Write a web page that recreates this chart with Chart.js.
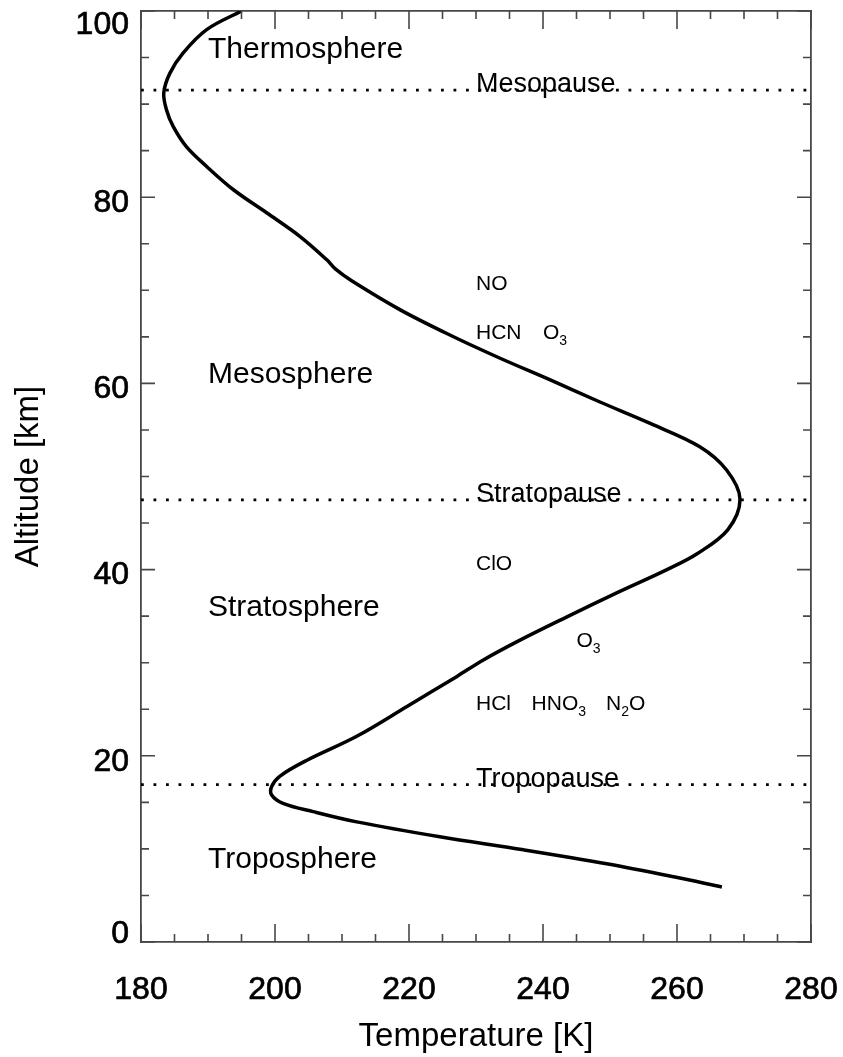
<!DOCTYPE html>
<html>
<head>
<meta charset="utf-8">
<script src="https://cdn.jsdelivr.net/npm/chart.js@4"></script>
<style>
  html, body { margin: 0; padding: 0; background: #fff; }
  canvas { display: block; }
</style>
</head>
<body>
<canvas id="profile" width="843" height="1057"></canvas>
<script>
// Mean temperature profile of the atmosphere, surface to 100 km
const temperatureK = [
  266.7, 259.5, 249.5, 237.1, 224.6, 212.2, 205.7, 201.2, 199.5, 199.5,
  200.7, 204.7, 212.2, 219.7, 227.1, 231.1, 236.5, 243.5, 251.0, 258.5,
  263.0, 267.6, 269.4, 267.4, 263.4, 256.0, 248.5, 241.0, 233.6, 226.1,
  218.7, 211.5, 209.0, 207.7, 203.7, 198.8, 193.8, 189.8, 186.8, 184.8,
  183.8, 183.4, 184.3, 186.3, 189.8, 195.0
];
const altitudeKm = [
  5.9, 7.0, 8.4, 9.9, 11.3, 12.9, 14.0, 14.9, 15.8, 16.7,
  17.8, 19.5, 22.1, 25.3, 28.5, 30.3, 32.4, 34.9, 37.5, 40.0,
  41.7, 44.3, 47.6, 50.7, 53.2, 55.7, 58.0, 60.4, 62.7, 65.2,
  67.9, 71.0, 72.3, 73.3, 75.8, 78.3, 80.8, 83.3, 85.4, 87.6,
  89.4, 91.2, 93.3, 95.5, 98.0, 100.0
];

// Axis ticks (labelled every 20, minor marks every 5)
const xTickValues = [180, 185, 190, 195, 200, 205, 210, 215, 220, 225, 230, 235, 240,
                     245, 250, 255, 260, 265, 270, 275, 280];
const yTickValues = [0, 5, 10, 15, 20, 25, 30, 35, 40, 45, 50, 55, 60, 65, 70, 75, 80,
                     85, 90, 95, 100];
const labelledStep = 20;

// Boundaries between layers
const pauseNames = ['Mesopause', 'Stratopause', 'Tropopause'];
const pauseAltitudeKm = [91.5, 47.5, 16.9];
const pauseLabelTemperatureK = 230;

// Layer names
const layerNames = ['Thermosphere', 'Mesosphere', 'Stratosphere', 'Troposphere'];
const layerAltitudeKm = [95, 60, 35, 8];
const layerTemperatureK = 190;

// Trace species ("_" marks a subscript digit)
const speciesNames = ['NO', 'HCN', 'O_3', 'ClO', 'O_3', 'HCl', 'HNO_3', 'N_2O'];
const speciesTemperatureK = [230, 230, 240, 230, 245, 230, 238.3, 249.4];
const speciesAltitudeKm = [70, 64.8, 64.8, 40, 31.7, 24.9, 24.9, 24.9];

const FONT = "'Liberation Sans', Arial, Helvetica, sans-serif";
const AXIS_COLOR = '#474747';

const profilePoints = temperatureK.map((t, i) => ({ x: t, y: altitudeKm[i] }));

const pauseDatasets = pauseAltitudeKm.map(a => ({
  data: [{ x: xTickValues[0], y: a }, { x: xTickValues[xTickValues.length - 1], y: a }],
  showLine: true,
  borderColor: '#000',
  borderWidth: 2.8,
  borderDash: [2.8, 9.7],
  borderCapStyle: 'butt',
  pointRadius: 0
}));

function drawFormula(ctx, s, px, py) {
  let cx = px;
  for (let i = 0; i < s.length; i++) {
    if (s[i] === '_') {
      i++;
      ctx.font = `14px ${FONT}`;
      ctx.fillText(s[i], cx, py + 6);
      cx += ctx.measureText(s[i]).width;
    } else {
      ctx.font = `21px ${FONT}`;
      ctx.fillText(s[i], cx, py);
      cx += ctx.measureText(s[i]).width;
    }
  }
}

const annotations = {
  id: 'annotations',
  afterDatasetsDraw(chart) {
    const { ctx, scales: { x, y } } = chart;
    ctx.save();
    ctx.fillStyle = '#000';
    ctx.textAlign = 'left';
    ctx.textBaseline = 'alphabetic';
    ctx.font = `30px ${FONT}`;
    layerNames.forEach((n, i) => {
      ctx.fillText(n, x.getPixelForValue(layerTemperatureK), y.getPixelForValue(layerAltitudeKm[i]));
    });
    ctx.font = `27px ${FONT}`;
    pauseNames.forEach((n, i) => {
      ctx.fillText(n, x.getPixelForValue(pauseLabelTemperatureK), y.getPixelForValue(pauseAltitudeKm[i]) + 2);
    });
    speciesNames.forEach((s, i) => {
      drawFormula(ctx, s, x.getPixelForValue(speciesTemperatureK[i]), y.getPixelForValue(speciesAltitudeKm[i]));
    });
    ctx.restore();
  },
  afterDraw(chart) {
    // inward tick marks on all four sides of the frame
    const { ctx, chartArea: { left, right, top, bottom }, scales: { x, y } } = chart;
    ctx.save();
    ctx.strokeStyle = AXIS_COLOR;
    ctx.lineWidth = 1.6;
    ctx.beginPath();
    x.ticks.forEach(t => {
      const px = x.getPixelForValue(t.value);
      const len = t.value % labelledStep === 0 ? 18 : 8;
      ctx.moveTo(px, bottom); ctx.lineTo(px, bottom - len);
      ctx.moveTo(px, top); ctx.lineTo(px, top + len);
    });
    y.ticks.forEach(t => {
      const py = y.getPixelForValue(t.value);
      const len = t.value % labelledStep === 0 ? 14 : 8;
      ctx.moveTo(left, py); ctx.lineTo(left + len, py);
      ctx.moveTo(right, py); ctx.lineTo(right - len, py);
    });
    ctx.stroke();
    ctx.restore();
  }
};

// fixed axis box sizes, with no extra room reserved for overhanging labels
function fixBox(size) {
  return s => {
    if (s.isHorizontal()) s.height = size; else s.width = size;
    s.paddingLeft = 0; s.paddingRight = 0; s.paddingTop = 0; s.paddingBottom = 0;
  };
}

const yMin = yTickValues[0];
const yMax = yTickValues[yTickValues.length - 1];

// y labels: the end labels are nudged inwards (top one down, bottom one up)
function yLabel(v) {
  if (v % labelledStep !== 0) return '';
  if (v === yMax) return ['', String(v)];
  if (v === yMin) return [String(v), ''];
  return String(v);
}
function yTickFont(c) {
  const v = c.tick ? c.tick.value : null;
  let lineHeight = 1.2;
  if (v === yMax) lineHeight = '16px';
  else if (v === yMin) lineHeight = '28px';
  return { family: FONT, size: 32, lineHeight };
}

const border = { display: true, color: AXIS_COLOR, width: 1.8 };

new Chart(document.getElementById('profile'), {
  type: 'scatter',
  data: {
    datasets: [
      {
        data: profilePoints,
        showLine: true,
        borderColor: '#000',
        borderWidth: 3.5,
        pointRadius: 0,
        tension: 0.35
      },
      ...pauseDatasets
    ]
  },
  options: {
    responsive: false,
    animation: false,
    layout: { padding: 0 },
    plugins: { legend: { display: false }, tooltip: { enabled: false } },
    scales: {
      x: {
        type: 'linear', position: 'bottom', min: 180, max: 280,
        afterBuildTicks: s => { s.ticks = xTickValues.map(v => ({ value: v })); },
        afterFit: fixBox(115),
        ticks: {
          autoSkip: false, maxRotation: 0, padding: 29, color: '#000',
          font: { family: FONT, size: 32 },
          textStrokeColor: '#000', textStrokeWidth: 0.7,
          callback: v => (v % labelledStep === 0 ? String(v) : '')
        },
        grid: { display: false, drawTicks: false },
        border,
        title: {
          display: true, text: 'Temperature [K]', color: '#000',
          font: { family: FONT, size: 33 }, padding: { top: 0, bottom: 0 }
        }
      },
      xTop: {
        type: 'linear', position: 'top', min: 180, max: 280,
        afterFit: fixBox(11),
        ticks: { display: false },
        grid: { display: false, drawTicks: false },
        border
      },
      y: {
        type: 'linear', position: 'left', min: yMin, max: yMax,
        afterBuildTicks: s => { s.ticks = yTickValues.map(v => ({ value: v })); },
        afterFit: fixBox(141),
        ticks: {
          autoSkip: false, padding: 12, labelOffset: 6, color: '#000',
          font: yTickFont,
          textStrokeColor: '#000', textStrokeWidth: 0.7,
          callback: yLabel
        },
        grid: { display: false, drawTicks: false },
        border,
        title: {
          display: true, text: 'Altitude [km]', color: '#000',
          font: { family: FONT, size: 33 }, padding: { top: 9, bottom: 0 }
        }
      },
      yRight: {
        type: 'linear', position: 'right', min: yMin, max: yMax,
        afterFit: fixBox(32),
        ticks: { display: false },
        grid: { display: false, drawTicks: false },
        border
      }
    }
  },
  plugins: [annotations]
});
</script>
</body>
</html>
